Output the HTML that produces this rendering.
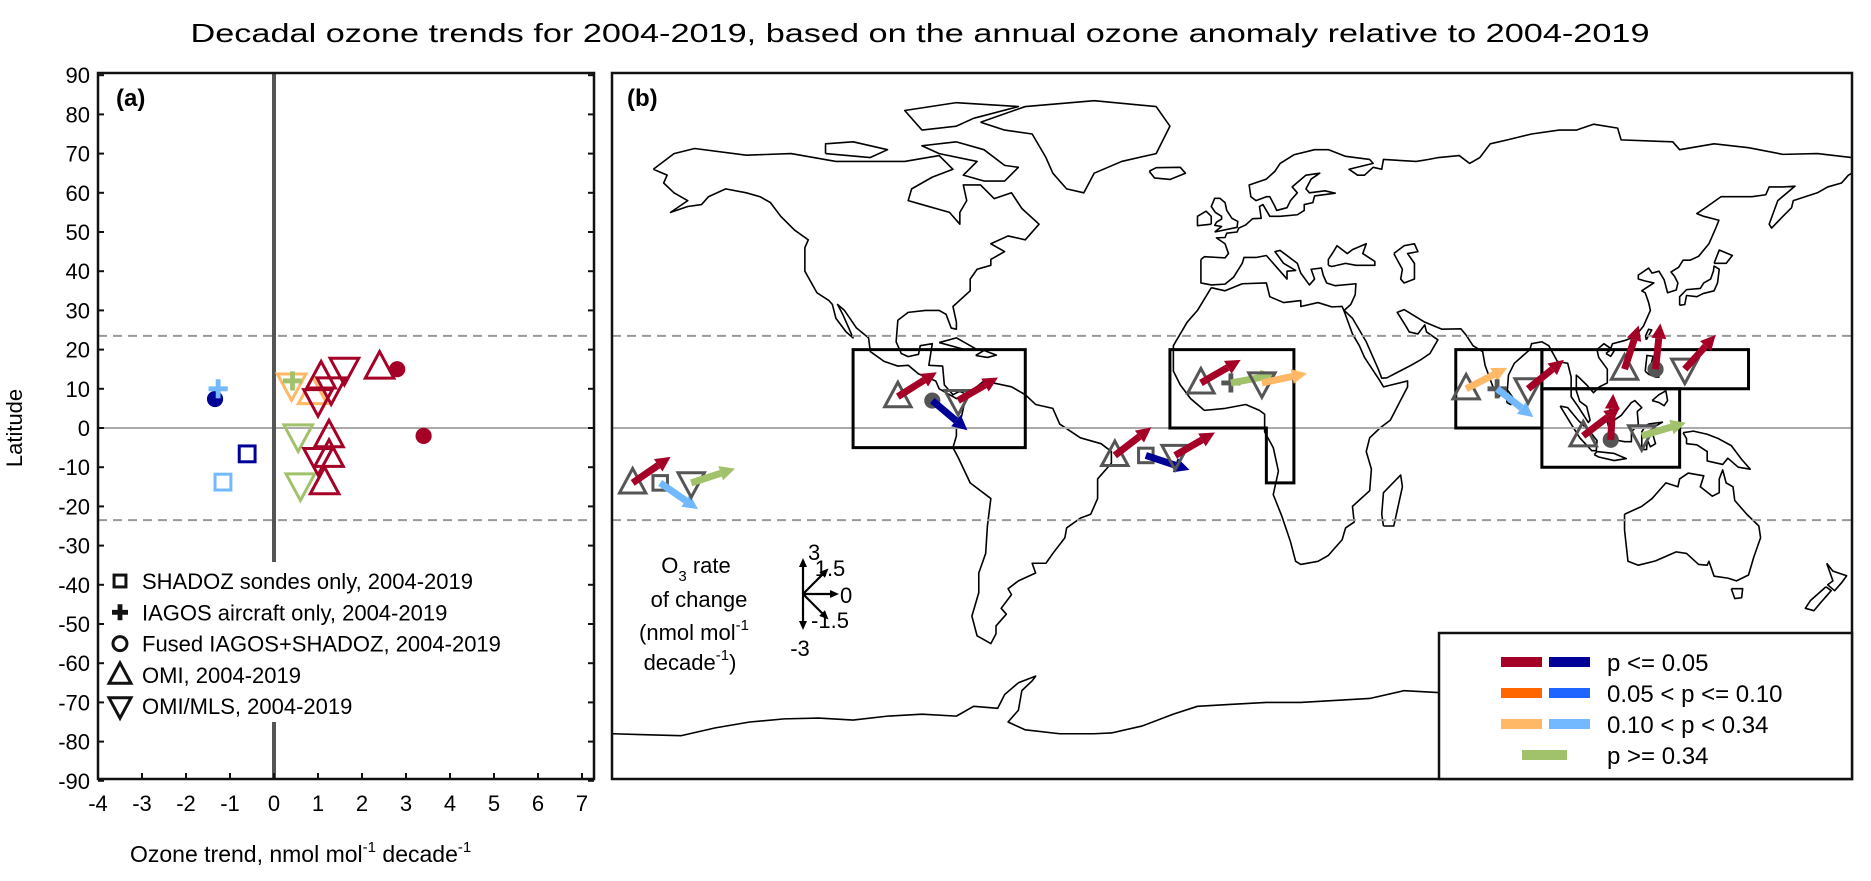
<!DOCTYPE html>
<html><head><meta charset="utf-8"><style>
html,body{margin:0;padding:0;background:#fff;}
svg{display:block;font-family:"Liberation Sans",Arial,sans-serif;}
</style></head><body>
<svg id="fig" width="1871" height="881" viewBox="0 0 1871 881" xmlns="http://www.w3.org/2000/svg">
<text x="920" y="42" font-size="26" text-anchor="middle" textLength="1459" lengthAdjust="spacingAndGlyphs">Decadal ozone trends for 2004-2019, based on the annual ozone anomaly relative to 2004-2019</text>
<g id="pa"></g>
<g id="pb"></g>
</svg>
<script>
// ---- Panel (a) data ----
const aType  = ['circle','plus','square','square','down','down','down','plus','up','up','up','up','up','up','down','down','down','down','circle','circle'];
const aTrend = [-1.34,-1.27,-0.61,-1.16,0.55,0.6,0.4,0.42,0.88,1.07,1.25,1.25,1.15,2.4,1.0,1.3,1.6,1.0,2.8,3.4];
const aLat   = [7.4,10,-6.6,-13.8,-2,-14.5,11,12,9,13,-2,-7,-14,15.5,7,10,15,-8,15,-2];
const aSig   = ['p05b','p34b','p05b','p34b','ns','ns','p34r','ns','p34r','p05r','p05r','p05r','p05r','p05r','p05r','p05r','p05r','p05r','p05r','p05r'];
const xTicks = [-4,-3,-2,-1,0,1,2,3,4,5,6,7];
const yTicks = [90,80,70,60,50,40,30,20,10,0,-10,-20,-30,-40,-50,-60,-70,-80,-90];
// ---- Panel (b) data ----
const mType  = ['up','square','down','up','circle','down','up','square','down','up','plus','down','up','plus','down','up','circle','down','up','circle','down'];
const mLon   = [-174,-166,-157,-97,-87,-79.5,-34,-25,-16.5,-9,-0.3,8.7,68,77,86,114,123,131.5,102,110,119];
const mLat   = [-14,-14,-14,8,7,7,-7,-7,-7,11.5,11.5,11.5,10,10,10,15,15,15,-2,-3,-2];
const mTrend = [1.15,-1.16,0.6,1.07,-1.34,1.0,1.25,-0.61,1.0,1.0,0.35,0.4,0.9,-1.27,1.3,2.4,2.8,1.6,1.25,2.9,0.55];
const mSig   = ['p05r','p34b','ns','p05r','p05b','p05r','p05r','p05b','p05r','p05r','ns','p34r','p34r','p34b','p05r','p05r','p05r','p05r','p05r','p05r','ns'];
const boxes = [
 [[-110,20],[-60,20],[-60,-5],[-110,-5]],
 [[-18,20],[18,20],[18,-14],[10,-14],[10,0],[-18,0]],
 [[65,20],[90,20],[90,0],[65,0]],
 [[90,20],[150,20],[150,10],[90,10]],
 [[90,10],[130,10],[130,-10],[90,-10]]
];
const coasts = [
[[-168,66],[-162,70],[-156,71.3],[-141,69.6],[-128,70],[-115,68],[-95,68],[-85,69.5],[-81,66],[-87,64],[-93,61],[-94,58],[-90,57],[-82,55],[-79,52],[-79,55],[-77,58],[-78,62],[-73,62],[-69,58.5],[-64,60],[-61,56],[-56,52],[-60,48],[-65,49],[-70,47],[-66,45],[-70,43],[-70,41.5],[-74,40.5],[-76,38],[-76,35],[-81,31],[-80,27],[-80,25.2],[-81.5,25.5],[-83,29],[-85,30],[-89,30],[-94,29.5],[-97,27.5],[-97.5,22],[-96,19],[-94,18.2],[-91,18.8],[-90.5,21],[-87,21.5],[-88,16],[-84,15.8],[-83.5,11],[-81,8.5],[-79,9.4],[-77,8.5],[-80,7.5],[-85,10],[-86,12],[-91,13.8],[-94,16],[-97,15.8],[-101,17],[-105,19.5],[-105.5,23],[-109,25.5],[-112.5,30],[-114.5,31.5],[-113,29],[-110,23],[-112,24.5],[-115,28],[-116,31.5],[-117,32.5],[-120.5,34.5],[-124,40],[-124,46],[-123,48],[-127,50.5],[-131,54],[-134,57.5],[-137,59],[-141,60],[-147,61],[-152,59],[-154,57],[-158,56.5],[-163,55],[-158,58],[-162,60],[-165,62.5],[-164,64.5],[-168,66]],
[[-73,78],[-60,82],[-40,83.5],[-22,82],[-18,77],[-22,70],[-32,68],[-40,65],[-43,60],[-48,61],[-52,65],[-54,69],[-58,75],[-66,76],[-73,78]],
[[-80,73],[-72,71],[-66,67],[-62,66.5],[-66,63],[-72,63],[-78,64.5],[-74,68],[-85,70],[-90,72],[-80,73]],
[[-90,76],[-80,77],[-75,79],[-62,82],[-80,83],[-95,81],[-90,76]],
[[-118,70],[-105,69],[-100,71],[-110,73],[-118,72.5],[-118,70]],
[[-85,21.8],[-80,23],[-74,20],[-77.5,20],[-85,21.8]],
[[-74.4,18.5],[-72,19.8],[-68.4,18.6],[-71,18],[-74.4,18.5]],
[[-77,8.5],[-72,12],[-64,10.5],[-60,8.5],[-57,6],[-52,5],[-50,1],[-44,-2.5],[-38,-4],[-35,-6],[-35,-9],[-39,-13],[-39,-18],[-41,-22],[-44,-23],[-48,-25.5],[-48.5,-28],[-52,-32],[-54,-34.5],[-58,-34.5],[-57,-37],[-62,-39],[-65,-41],[-64,-42.5],[-67,-46],[-65.5,-47.5],[-68.5,-50.5],[-68.5,-52.5],[-70,-55],[-74,-53],[-75.5,-48],[-73.5,-42],[-73.5,-37],[-71.5,-32],[-71,-25],[-70,-18],[-76,-14],[-79.5,-7.5],[-81,-5],[-80,-2],[-80,1],[-78.5,3],[-77.5,7],[-77,8.5]],
[[-6,35.8],[-10,30],[-13,27],[-17,21],[-17,14.5],[-15,11],[-12,7.5],[-8,4.5],[-2,5],[4,6],[8,4.5],[9.5,3.5],[9.5,-1],[12,-5],[13.5,-11],[12,-17],[14.5,-22.5],[17,-29],[18.5,-34],[20,-34.8],[25,-34],[28,-32.5],[32,-28.5],[33,-25.5],[35.5,-24],[35,-20],[40,-16],[40.5,-10.5],[39,-6],[40,-2.5],[43,0],[46,2],[51,10.5],[51,12],[44,10.5],[43,12],[38.5,18],[37,21],[35,24],[32.5,30],[32,31],[29,30.9],[25,32],[20,31],[20,32.5],[15,32],[11,33.5],[10,37],[3,36.8],[-2,35],[-6,35.8]],
[[44,-25],[47,-25],[49.5,-15],[49,-12],[44,-16.5],[43.5,-22],[44,-25]],
[[-9,43],[-9,37],[-6,36.5],[-2,36.7],[0.5,38.5],[3,42],[3.5,43.5],[7,43.5],[10,44],[12.5,41.5],[16,38],[16,40],[18.5,40.2],[15,42],[12.5,45],[14,45.3],[19,42],[20,39.5],[22.5,36.5],[24,38],[23,40.5],[26,40.8],[26.5,39],[27.5,37],[30,36.3],[36,36.8],[35.8,34],[34.5,31.5],[32.6,30],[35,28],[39,22],[42.5,15],[43.5,12.7],[45,12.8],[52,16],[55,17.5],[57.5,19],[59.8,22.5],[56.5,24.5],[56,26.3],[54,24],[51.5,24.5],[50.5,26],[48,29.5],[50,30.2],[56,27],[61,25.2],[66.5,25.3],[68,23.7],[70,21],[72.8,19.5],[73.5,16],[76,10],[77.5,8],[80,10],[80.3,13.5],[82,16.5],[86.5,20],[87,21.5],[90,22],[92,21],[94.5,17],[97.5,16.5],[98.5,13],[98.5,8],[100.5,5.5],[103.5,1.4],[104,2],[103,5.5],[101,6.8],[100,9.5],[100,13.5],[101,12.7],[103,11],[105,9],[106.7,10.5],[109,11.5],[109,15],[106.5,18],[106,20],[108,21.5],[110,20.3],[110.5,21.5],[114,22.3],[117,23.3],[119.5,26],[121.5,30],[121,32],[120,34.5],[119,35],[122.5,37],[120,37.5],[118,38],[118,39],[121,40.8],[122,39.5],[124,40],[125.5,37.8],[126.5,34.5],[129,35.2],[129.5,37],[128.5,38.7],[127.5,39.8],[129.7,41],[131,42.8],[133,42.8],[135.5,43.8],[138.5,47],[140.5,51],[141.4,53],[137,54],[135,54.7],[138,56.5],[142,59],[151,59],[155,59.5],[156,61.5],[160,61.5],[163.5,61.7],[158.5,58],[156,52],[156.7,51],[160,54],[162.5,56.2],[163,58],[170,60],[173,61.5],[177,62.5],[179,64.5],[180,65],[180,69],[170,70],[160,69.8],[150,71.5],[140,72.5],[130,71],[128,73],[113,73.5],[112,76.5],[105,77.5],[100,76],[95,76],[87,75],[80,73.5],[75,72.5],[72,69],[69,67.5],[66,69.5],[60,69],[57,68.5],[53.5,68],[44,68.5],[43.5,66],[41,66.5],[38.5,64.5],[36.5,64.5],[34,66],[41,67.5],[40,68.5],[33,69.3],[28,71],[24,71],[18,69.7],[14,67.5],[12.5,65.5],[10,63.5],[5,62],[5.5,59],[7,58],[10,59],[11,59],[12.5,56.5],[13,55.5],[16,56.2],[17,58],[19,60],[17.5,61.5],[21.5,64.5],[25.5,65],[23,63.5],[21.5,61],[22.5,60],[27,60.5],[30,59.9],[24,59.2],[23.5,57.5],[21,57],[21,55.5],[19,54.4],[14,54],[11,54],[9,57],[8,56.5],[8.5,53.5],[6,53.4],[4,51.8],[2,51],[1.5,50],[-1.5,49.7],[-2,48.6],[-4.5,48.5],[-2,47],[-1,44.5],[-2,43.4],[-8,43.7],[-9,43]],
[[28,41.5],[29,41.2],[33,42],[36,41.5],[41.5,41.5],[41.5,42.5],[38,44.5],[39,47],[35,45.5],[33.5,44.5],[30.5,46.5],[29.5,45],[28,43],[28,41.5]],
[[47,44.5],[50,46.5],[53,47],[54,45],[51,44.5],[53,42],[53,38],[50,37],[49,38],[49.5,40.5],[47,44.5]],
[[-5,50],[1.5,51.2],[1.7,52.7],[0,53.5],[-1.5,55.5],[-2,57.5],[-3.5,58.6],[-5,58.6],[-6,56.5],[-4.8,55],[-3,54],[-3,53.3],[-4.5,52.5],[-5,51.7],[-3,51.4],[-5,50]],
[[-6,52],[-6,54],[-7.5,55.3],[-10,54],[-10,51.6],[-6,52]],
[[-24,65.5],[-22,66.4],[-15,66.5],[-13.5,65],[-18,63.4],[-22.5,63.8],[-24,65.5]],
[[130,31.3],[131.5,31.5],[132,33.8],[135,33.5],[136.8,34.3],[140,35],[141,37],[141.5,40.5],[140,41.3],[139.8,40],[139,38],[137,37],[136,35.6],[132,35.3],[130,33.5],[130,31.3]],
[[140,42],[141.5,45.4],[145.3,44],[143.5,42],[140,42]],
[[120.3,22.5],[121.9,25],[121,25.2],[120.1,23.5],[120.3,22.5]],
[[108.6,19],[110,20],[111,19.7],[110,18.3],[108.6,19]],
[[79.8,6.5],[80,9.7],[81.8,7.5],[81,6],[79.8,6.5]],
[[120,14.5],[120.5,18.5],[122.3,18.3],[121.5,15.5],[124,13],[123,13],[121,13.7],[120,14.5]],
[[122,7],[124,8.5],[126,9.5],[126.5,7],[125.5,5.7],[124,6.5],[122,7]],
[[109,1.5],[110,-1.5],[111,-3],[114,-3.5],[116,-3.5],[116,-1],[118,1],[117.7,4.2],[119,5.2],[117,7],[116,6.5],[113,3.2],[111,2],[109,1.5]],
[[95.3,5.6],[97.5,5.2],[100.5,2],[104,-1],[106,-3.2],[105.8,-5.8],[104.5,-5.8],[101,-2.5],[98.5,1],[95.3,5.6]],
[[105.2,-6.8],[106,-6],[111,-6.5],[114.5,-7.8],[111,-8.3],[106.5,-7.4],[105.2,-6.8]],
[[119,-5.5],[120.4,-5.5],[120.6,-3],[121.5,-4.8],[123,-4],[122,-1],[121,-1],[123,0.5],[125,1.5],[121,1],[120,0.5],[119,-1],[119,-5.5]],
[[131,-1.2],[134,-0.8],[138,-1.6],[141,-2.6],[145,-4.5],[148,-8],[150.5,-10.5],[147,-10],[144,-7.7],[142.5,-9.3],[138,-8.4],[138,-6],[135,-4.3],[132,-4],[132,-2.7],[131,-1.2]],
[[114,-22],[114,-26],[115,-34],[118,-35],[123,-33.9],[129,-31.6],[132,-32],[135.5,-34.8],[138,-35],[138.5,-34],[140,-37.8],[144,-38.3],[146.5,-39],[150,-37.5],[151.5,-33],[153.5,-28],[153,-25],[149.5,-22],[146,-18.5],[145.5,-15],[143.5,-14],[142.5,-10.7],[141.5,-13],[141.5,-16.5],[139.5,-17.4],[136,-15],[137,-12.2],[132.5,-11.5],[130,-13],[129.5,-15],[126,-14],[123,-17],[122,-18],[119,-20],[114,-22]],
[[145,-41],[148.3,-41],[148,-43.3],[146,-43.5],[145,-41]],
[[172.7,-34.5],[174.5,-36.5],[178.5,-37.7],[177,-39.5],[175,-41.5],[173,-40],[174.5,-39],[172.7,-34.5]],
[[172.5,-40.5],[174,-41.5],[171,-44.5],[169,-46.6],[166.5,-46],[168,-44],[172.5,-40.5]],
[[-180,-78],[-160,-78.5],[-150,-76.5],[-140,-75],[-130,-74.2],[-120,-74],[-110,-74.5],[-100,-73.5],[-90,-73],[-80,-73.5],[-75,-71],[-68,-71.5],[-66,-68],[-62,-65],[-57,-63.3],[-58,-64.5],[-61,-67],[-62,-72],[-65,-75],[-60,-77],[-50,-78],[-40,-78],[-35,-77.8],[-26,-76],[-17,-73],[-10,-71],[0,-70.5],[10,-70],[20,-70],[30,-69.5],[40,-69],[50,-67],[60,-67.5],[70,-68],[75,-70],[80,-67.5],[90,-66.5],[100,-66],[110,-66.5],[120,-67],[130,-66.3],[140,-66.8],[150,-68.5],[160,-70],[167,-72],[170,-71.5],[165,-76],[165,-78],[180,-78]]
];

const COL = {p05r:'#a50026',p05b:'#000096',p10r:'#ff6600',p10b:'#1e64ff',p34r:'#ffb866',p34b:'#73b9ff',ns:'#a2c16b'};
const NS='http://www.w3.org/2000/svg';
function el(parent,tag,attrs,text){const e=document.createElementNS(NS,tag);for(const k in attrs)e.setAttribute(k,attrs[k]);if(text!==undefined)e.textContent=text;parent.appendChild(e);return e;}
const ax=v=>274+v*44, ay=l=>428-l*3.92;
const mx=lon=>612+(lon+180)*3.444, my=l=>428-l*3.92;

function marker(g,type,x,y,col,s,sw){
  let e;
  if(type==='up') e=el(g,'polygon',{points:`${x},${y-s*0.6} ${x-s*0.55},${y+s*0.42} ${x+s*0.55},${y+s*0.42}`,fill:'none',stroke:col,'stroke-width':sw});
  else if(type==='down') e=el(g,'polygon',{points:`${x},${y+s*0.6} ${x-s*0.55},${y-s*0.42} ${x+s*0.55},${y-s*0.42}`,fill:'none',stroke:col,'stroke-width':sw});
  else if(type==='square') e=el(g,'rect',{x:x-s*0.33,y:y-s*0.33,width:s*0.66,height:s*0.66,fill:'none',stroke:col,'stroke-width':sw});
  else if(type==='circle') e=el(g,'circle',{cx:x,cy:y,r:s*0.3,fill:col});
  else e=el(g,'path',{d:`M${x-s*0.4},${y}H${x+s*0.4}M${x},${y-s*0.4}V${y+s*0.4}`,stroke:col,'stroke-width':sw*1.6,fill:'none'});
  return e;
}

// ---------- Panel a ----------
const pa=document.getElementById('pa');
const L=98,R=594,T=73,B=779;
let e;
e=el(pa,'line',{x1:L,x2:R,y1:ay(0),y2:ay(0),stroke:'#aaa','stroke-width':2});

[23.5,-23.5].forEach(t=>{e=el(pa,'line',{x1:L,x2:R,y1:ay(t),y2:ay(t),stroke:'#999','stroke-width':2,'stroke-dasharray':'9,6'});
});
e=el(pa,'line',{x1:ax(0),x2:ax(0),y1:T,y2:562,stroke:'#555','stroke-width':4});

e=el(pa,'line',{x1:ax(0),x2:ax(0),y1:722,y2:B,stroke:'#555','stroke-width':4});

e=el(pa,'rect',{x:L,y:T,width:R-L,height:B-T,fill:'none',stroke:'#111','stroke-width':2.5});

yTicks.forEach(v=>{const y=ay(v);
 el(pa,'line',{x1:L,x2:L+6,y1:y,y2:y,stroke:'#111','stroke-width':2});
 el(pa,'line',{x1:R-6,x2:R,y1:y,y2:y,stroke:'#111','stroke-width':2});
 e=el(pa,'text',{x:L-8,y:y+8,'font-size':22,'text-anchor':'end'},String(v));
 });
xTicks.forEach(v=>{const x=ax(v);
 el(pa,'line',{x1:x,x2:x,y1:B-6,y2:B,stroke:'#111','stroke-width':2});
 e=el(pa,'text',{x:x,y:B+32,'font-size':22,'text-anchor':'middle'},String(v));
 });
e=el(pa,'text',{x:22,y:428,'font-size':22,'text-anchor':'middle',transform:'rotate(-90 22 428)'},'Latitude');

e=el(pa,'text',{x:130,y:862,'font-size':23});

e.innerHTML='Ozone trend, nmol mol<tspan dy="-10" font-size="15">-1</tspan><tspan dy="10"> decade</tspan><tspan dy="-10" font-size="15">-1</tspan>';
e=el(pa,'text',{x:116,y:106,'font-size':24,'font-weight':'bold'},'(a)');

// legend
const legT=['square','plus','circle','up','down'];
const legS=['SHADOZ sondes only, 2004-2019','IAGOS aircraft only, 2004-2019','Fused IAGOS+SHADOZ, 2004-2019','OMI, 2004-2019','OMI/MLS, 2004-2019'];
legT.forEach((t,i)=>{const y=581+i*31.3;
 const g=el(pa,'g',{});
 
 if(t==='circle') el(g,'circle',{cx:120,cy:y,r:7,fill:'none',stroke:'#111','stroke-width':3});
 else marker(g,t,120,y,'#111',t==='square'?18:20,3);
 el(g,'text',{x:142,y:y+8,'font-size':22},legS[i]);});
// points
aType.forEach((t,i)=>{const g=el(pa,'g',{});
 
 const s = t==='square'?24:(t==='circle'?27:(t==='plus'?24:26));
 marker(g,t,ax(aTrend[i]),ay(aLat[i]),COL[aSig[i]],s,3);});

// ---------- Panel b ----------
const pb=document.getElementById('pb');
const BL=612,BR=1852;
const cg=el(pb,'g',{fill:'none',stroke:'#000','stroke-width':1.6,'stroke-linejoin':'round'});

coasts.forEach(c=>{e=el(cg,'polyline',{points:c.map(p=>mx(p[0])+','+my(p[1])).join(' ')});
 });
e=el(pb,'line',{x1:BL,x2:BR,y1:my(0),y2:my(0),stroke:'#aaa','stroke-width':2});

[23.5,-23.5].forEach(t=>{e=el(pb,'line',{x1:BL,x2:BR,y1:my(t),y2:my(t),stroke:'#999','stroke-width':2,'stroke-dasharray':'9,6'});
});
boxes.forEach(b=>{e=el(pb,'polygon',{points:b.map(p=>mx(p[0])+','+my(p[1])).join(' '),fill:'none',stroke:'#000','stroke-width':3});
 });
function arrow(g,x,y,ang,len,col,w,hl,hw){
 const c=Math.cos(ang),s=-Math.sin(ang);
 const ex=x+c*len,ey=y+s*len,bx=x+c*(len-hl),by=y+s*(len-hl);
 el(g,'line',{x1:x,y1:y,x2:bx,y2:by,stroke:col,'stroke-width':w});
 el(g,'polygon',{points:`${ex},${ey} ${bx-s*hw/2},${by+c*hw/2} ${bx+s*hw/2},${by-c*hw/2}`,fill:col});
}
mType.forEach((t,i)=>{const x=mx(mLon[i]),y=my(mLat[i]);
 const g=el(pb,'g',{});
 
 marker(g,t,x,y,'#555',t==='circle'?27:(t==='square'?22:24),3);
 arrow(g,x,y,mTrend[i]/3*Math.PI/2,46,COL[mSig[i]],7,15,15);});
e=el(pb,'rect',{x:BL,y:T,width:BR-BL,height:B-T,fill:'none',stroke:'#111','stroke-width':2.5});

e=el(pb,'text',{x:627,y:106,'font-size':24,'font-weight':'bold'},'(b)');

// rate key
const kg=el(pb,'g',{'font-size':22,'text-anchor':'middle'});

let t1=el(kg,'text',{x:696,y:573});t1.innerHTML='O<tspan dy="8" font-size="15">3</tspan><tspan dy="-8"> rate</tspan>';
el(kg,'text',{x:699,y:607},'of change');
t1=el(kg,'text',{x:694,y:640});t1.innerHTML='(nmol mol<tspan dy="-10" font-size="15">-1</tspan>';
t1=el(kg,'text',{x:690,y:670});t1.innerHTML='decade<tspan dy="-10" font-size="15">-1</tspan><tspan dy="10">)</tspan>';
const keyVals=[3,1.5,0,-1.5,-3];
keyVals.forEach(v=>arrow(kg,803,594,v/3*Math.PI/2,36,'#000',2.2,9,8));
el(kg,'text',{x:808,y:560,'text-anchor':'start'},'3');
el(kg,'text',{x:830,y:576},'1.5');
el(kg,'text',{x:840,y:603,'text-anchor':'start'},'0');
el(kg,'text',{x:830,y:628},'-1.5');
el(kg,'text',{x:800,y:656,'text-anchor':'middle'},'-3');
// p legend
const lg=el(pb,'g',{});

el(lg,'rect',{x:1439,y:633,width:BR-1439,height:B-633,fill:'#fff',stroke:'#111','stroke-width':2.5});
const pLab=['p <= 0.05','0.05 < p <= 0.10','0.10 < p < 0.34','p >= 0.34'];
const pR=['p05r','p10r','p34r',null], pB=['p05b','p10b','p34b',null];
pLab.forEach((lab,i)=>{const y=662+i*31;
 const g=el(lg,'g',{});
 
 if(pR[i]){el(g,'rect',{x:1501,y:y-5,width:41,height:10,fill:COL[pR[i]]});el(g,'rect',{x:1549,y:y-5,width:41,height:10,fill:COL[pB[i]]});}
 else el(g,'rect',{x:1522,y:y-5,width:45,height:10,fill:COL.ns});
 el(g,'text',{x:1607,y:y+9,'font-size':24},lab);});
</script>
</body></html>
